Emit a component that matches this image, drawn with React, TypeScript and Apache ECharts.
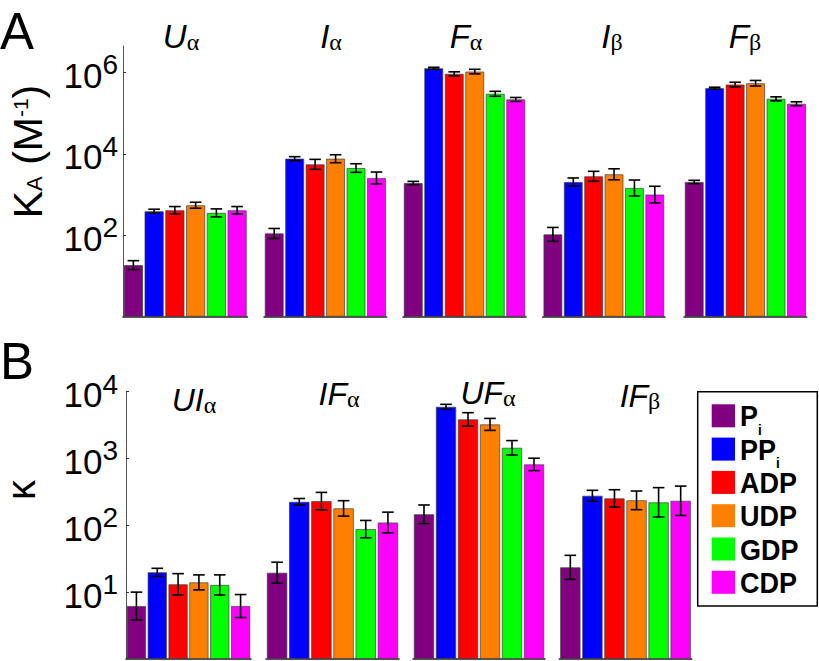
import { useEffect, useRef } from 'react';
import * as echarts from 'echarts';

// ---------- data ----------
const ligands = ['Pi', 'PPi', 'ADP', 'UDP', 'GDP', 'CDP'];
const ligandColors = ['#800080', '#0000ff', '#ff0000', '#ff8000', '#00ff00', '#ff00ff'];
const legendMain = ['P', 'PP', 'ADP', 'UDP', 'GDP', 'CDP'];
const legendSub = ['i', 'i', '', '', '', ''];

// Panel A: K_A (M^-1)
const kaUalpha = [18.5, 390, 412, 547, 355, 412];
const kaUalphaLo = [14.4, 348, 334, 462, 283, 334];
const kaUalphaHi = [23.8, 437, 508, 648, 445, 508];

const kaIalpha = [111, 7620, 5530, 7600, 4490, 2550];
const kaIalphaLo = [83.7, 6800, 4170, 6070, 3520, 1820];
const kaIalphaHi = [147, 8530, 7330, 9520, 5720, 3580];

const kaFalpha = [1920, 1270000, 925000, 1050000, 299000, 217000];
const kaFalphaLo = [1750, 1200000, 826000, 922000, 260000, 194000];
const kaFalphaHi = [2110, 1340000, 1036000, 1196000, 344000, 243000];

const kaIbeta = [105, 2040, 2810, 3150, 1450, 1000];
const kaIbetaLo = [70.8, 1630, 2120, 2310, 924, 626];
const kaIbetaHi = [156, 2560, 3730, 4300, 2280, 1600];

const kaFbeta = [2040, 410000, 505000, 543000, 225000, 170000];
const kaFbetaLo = [1850, 388000, 443000, 464000, 201000, 152000];
const kaFbetaHi = [2240, 434000, 575000, 636000, 252000, 190000];

// Panel B: kappa
const kUIalpha = [6.2, 19.8, 13.1, 14.0, 12.8, 6.2];
const kUIalphaLo = [3.83, 17.2, 9.07, 10.8, 9.07, 4.17];
const kUIalphaHi = [10.0, 22.7, 18.9, 18.1, 18.1, 9.2];

const kIFalpha = [19.5, 224, 230, 179, 87.7, 110];
const kIFalphaLo = [13.6, 200, 170, 137, 65, 77];
const kIFalphaHi = [28, 251, 310, 233, 118, 157];

const kUFalpha = [146, 5900, 3830, 3220, 1440, 813];
const kUFalphaLo = [106, 5410, 3040, 2620, 1124, 657];
const kUFalphaHi = [201, 6430, 4820, 3960, 1845, 1006];

const kIFbeta = [23.5, 276, 252, 236, 220, 232];
const kIFbetaLo = [15.5, 228, 187, 171, 133, 140];
const kIFbetaHi = [35.5, 333, 340, 325, 365, 385];

const tickValuesA = [100, 10000, 1000000];
const tickValuesB = [10, 100, 1000, 10000];

const groupsA = [
  { main: 'U', sub: 'α', v: kaUalpha, lo: kaUalphaLo, hi: kaUalphaHi },
  { main: 'I', sub: 'α', v: kaIalpha, lo: kaIalphaLo, hi: kaIalphaHi },
  { main: 'F', sub: 'α', v: kaFalpha, lo: kaFalphaLo, hi: kaFalphaHi },
  { main: 'I', sub: 'β', v: kaIbeta, lo: kaIbetaLo, hi: kaIbetaHi },
  { main: 'F', sub: 'β', v: kaFbeta, lo: kaFbetaLo, hi: kaFbetaHi },
];
const groupsB = [
  { main: 'UI', sub: 'α', v: kUIalpha, lo: kUIalphaLo, hi: kUIalphaHi },
  { main: 'IF', sub: 'α', v: kIFalpha, lo: kIFalphaLo, hi: kIFalphaHi },
  { main: 'UF', sub: 'α', v: kUFalpha, lo: kUFalphaLo, hi: kUFalphaHi },
  { main: 'IF', sub: 'β', v: kIFbeta, lo: kIFbetaLo, hi: kIFbetaHi },
];

// ---------- layout ----------
const FONT = '"Liberation Sans", Arial, Helvetica, sans-serif';
const SERIF = '"Liberation Serif", "DejaVu Serif", serif';
const panelA = { top: 46, height: 270.7, min: 1, max: Math.pow(10, 6.65), ticks: tickValuesA, labelMargin: 5 };
const panelB = { top: 391.5, height: 267.5, min: 1, max: 10000, ticks: tickValuesB, labelMargin: 8 };
const gridXA = [[123, 124.5], [264, 122.7], [403, 123], [542.7, 122.3], [684, 122.7]];
const gridXB = [[126, 125], [266, 133], [413, 132], [559.3, 132.4]];
const titleXA = [181, 331, 466, 612, 745];
const titleYA = [36.5, 36.5, 36.5, 36.5, 36.5];
const titleXB = [194, 339, 488, 640];
const titleYB = [400, 394, 393, 396];

function buildOption() {
  const grid: any[] = [];
  const xAxis: any[] = [];
  const yAxis: any[] = [];
  const series: any[] = [];
  const graphic: any[] = [];

  const addPanel = (groups: any[], gx: number[][], p: any, tx: number[], ty: number[], titleSize: number) => {
    groups.forEach((g, gi) => {
      const idx = grid.length;
      grid.push({ left: gx[gi][0], width: gx[gi][1], top: p.top, height: p.height, containLabel: false, outerBoundsMode: 'none' });
      xAxis.push({
        type: 'category', gridIndex: idx, data: ligands,
        axisLine: { show: true, onZero: false, lineStyle: { color: '#222', width: 1.5 } },
        axisTick: { show: false }, axisLabel: { show: false }, splitLine: { show: false },
      });
      const first = gi === 0;
      yAxis.push({
        type: 'log', logBase: 10, gridIndex: idx, min: p.min, max: p.max, show: first,
        axisLine: { show: first, lineStyle: { color: '#555', width: 1 } },
        axisTick: { show: first, inside: true, length: 3, customValues: p.ticks, lineStyle: { color: '#333', width: 1 } },
        splitLine: { show: false },
        axisLabel: {
          show: first, customValues: p.ticks, margin: p.labelMargin, padding: [6, 0, 0, 0],
          formatter: (v: number) => `{b|10}{s|${Math.round(Math.log10(v))}}`,
          rich: {
            b: { fontSize: 35, fontFamily: FONT, color: '#000', lineHeight: 36, height: 36 },
            s: { fontSize: 28, fontFamily: FONT, color: '#000', lineHeight: 15, height: 15, verticalAlign: 'top' },
          },
        },
      });
      series.push({
        type: 'bar', xAxisIndex: idx, yAxisIndex: idx, barCategoryGap: '8%',
        data: g.v.map((v: number, i: number) => ({ value: v, itemStyle: { color: ligandColors[i] } })),
        itemStyle: { borderColor: 'rgba(60,60,60,0.85)', borderWidth: 0.8 },
        z: 2,
      });
      series.push({
        type: 'custom', xAxisIndex: idx, yAxisIndex: idx, z: 4,
        encode: { x: 0, y: [1, 2] },
        data: ligands.map((_, i) => [i, g.lo[i], g.hi[i]]),
        renderItem: (_params: any, api: any) => {
          const i = api.value(0);
          const a = api.coord([i, api.value(1)]);
          const b = api.coord([i, api.value(2)]);
          const x = a[0];
          const h = 5.8;
          const style = { stroke: '#000', lineWidth: 1.6 };
          return {
            type: 'group',
            children: [
              { type: 'line', shape: { x1: x, y1: a[1], x2: x, y2: b[1] }, style },
              { type: 'line', shape: { x1: x - h, y1: a[1], x2: x + h, y2: a[1] }, style },
              { type: 'line', shape: { x1: x - h, y1: b[1], x2: x + h, y2: b[1] }, style },
            ],
          };
        },
      });
      graphic.push({
        type: 'text', x: tx[gi], y: ty[gi],
        style: {
          text: `{m|${g.main}}{s|${g.sub}}`,
          textAlign: 'center', textVerticalAlign: 'middle',
          rich: {
            m: { fontSize: titleSize, fontStyle: 'italic', fontFamily: FONT, fill: '#000', lineHeight: 34, height: 34 },
            s: { fontSize: 24, fontFamily: SERIF, fill: '#000', height: 24, verticalAlign: 'bottom' },
          },
        },
      });
    });
  };

  addPanel(groupsA, gridXA, panelA, titleXA, titleYA, 33);
  addPanel(groupsB, gridXB, panelB, titleXB, titleYB, 32);

  // panel letters
  graphic.push({ type: 'text', x: 0, y: 31.5, style: { text: 'A', fontSize: 51, fontFamily: FONT, fill: '#000', textVerticalAlign: 'middle' } });
  graphic.push({ type: 'text', x: 0, y: 361.5, style: { text: 'B', fontSize: 51, fontFamily: FONT, fill: '#000', textVerticalAlign: 'middle' } });

  // y axis names
  graphic.push({
    type: 'text', x: 28, y: 151.5, rotation: Math.PI / 2,
    style: {
      text: '{m|K}{sub|A}{m| (M}{sup|-1}{m|)}',
      textAlign: 'center', textVerticalAlign: 'middle',
      rich: {
        m: { fontSize: 41, fontFamily: FONT, fill: '#000', lineHeight: 40, height: 40 },
        sub: { fontSize: 22, fontFamily: FONT, fill: '#000', height: 27, verticalAlign: 'bottom' },
        sup: { fontSize: 21, fontFamily: FONT, fill: '#000', height: 25, verticalAlign: 'top' },
      },
    },
  });
  graphic.push({
    type: 'text', x: 21, y: 490, rotation: Math.PI / 2,
    style: { text: 'κ', fontSize: 40, fontFamily: FONT, fill: '#000', textAlign: 'center', textVerticalAlign: 'middle' },
  });

  // legend
  graphic.push({
    type: 'rect', shape: { x: 697.7, y: 391.7, width: 119.6, height: 214.3 },
    style: { fill: '#fff', stroke: '#000', lineWidth: 1.5 }, z: 10,
  });
  ligands.forEach((_, i) => {
    const cy = 415.8 + 33.3 * i;
    graphic.push({
      type: 'rect', shape: { x: 711.7, y: cy - 11.5, width: 23.3, height: 23 },
      style: { fill: ligandColors[i] }, z: 11,
    });
    graphic.push({
      type: 'text', x: 740, y: cy, scaleX: 0.9, z: 11,
      style: {
        text: legendSub[i] ? `{m|${legendMain[i]}}{s|${legendSub[i]}}` : `{m|${legendMain[i]}}`,
        textVerticalAlign: 'middle',
        rich: {
          m: { fontSize: 30, fontWeight: 'bold', fontFamily: FONT, fill: '#000', lineHeight: 30, height: 30 },
          s: { fontSize: 15, fontWeight: 'bold', fontFamily: FONT, fill: '#000', height: 3, verticalAlign: 'bottom' },
        },
      },
    });
  });

  return {
    animation: false,
    backgroundColor: '#fff',
    grid, xAxis, yAxis, series, graphic,
  };
}

export default function App() {
  const ref = useRef<HTMLDivElement>(null);
  useEffect(() => {
    if (!ref.current) return;
    const chart = echarts.init(ref.current, undefined, { renderer: 'svg' });
    chart.setOption(buildOption() as any);
    return () => chart.dispose();
  }, []);
  return <div ref={ref} style={{ position: 'fixed', left: 0, top: 0, width: 819, height: 661, background: '#fff' }} />;
}
